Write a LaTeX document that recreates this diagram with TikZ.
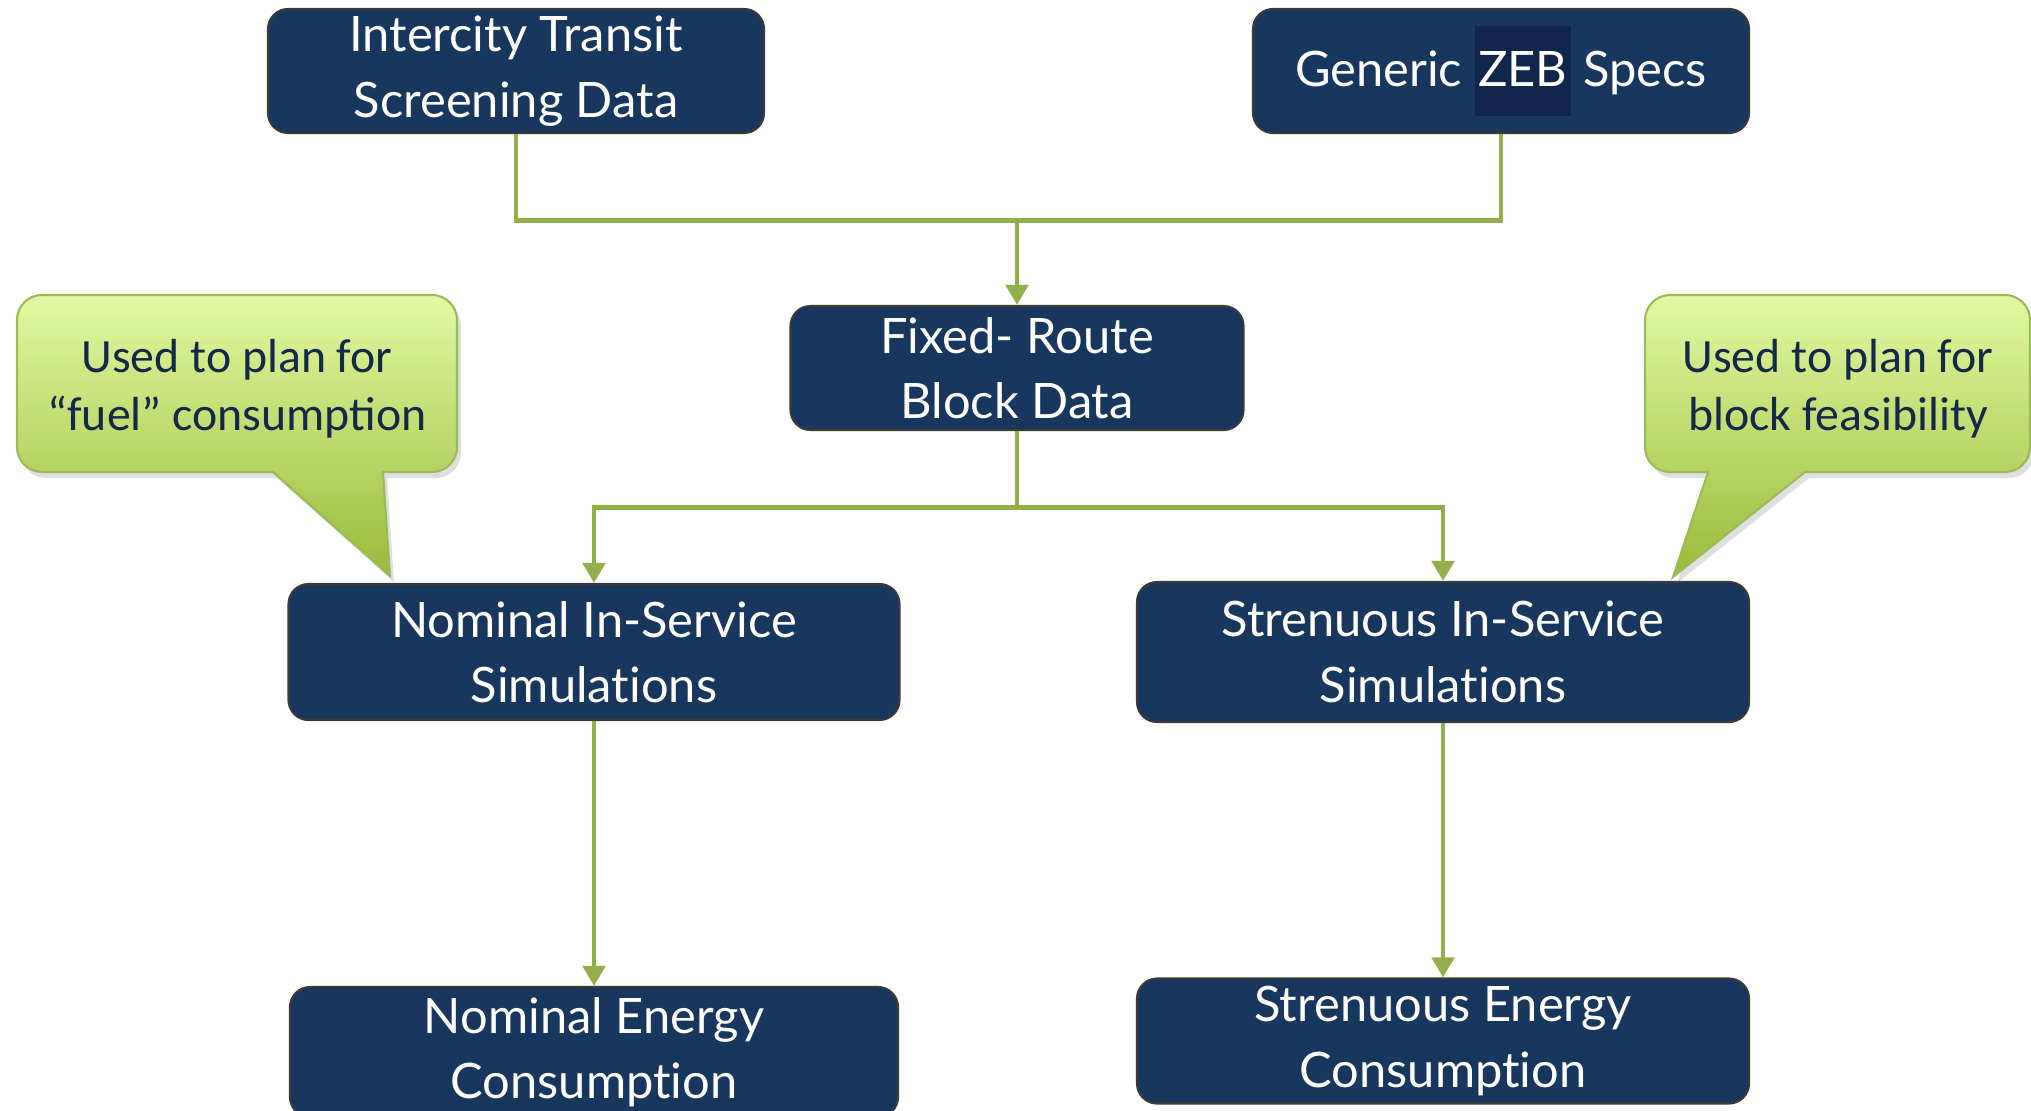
\documentclass[tikz,border=0pt]{standalone}
\usepackage{fontspec}
\setmainfont[Ligatures={NoCommon,NoContextual}]{Lato}
\newfontfamily\notefont{Carlito}
\usetikzlibrary{arrows.meta,shadows}

\definecolor{boxblue}{HTML}{17375E}
\definecolor{boxline}{HTML}{3A3A3A}
\definecolor{zebfill}{HTML}{10264A}
\definecolor{linkgreen}{HTML}{92AF4B}
\definecolor{bubbletop}{HTML}{E2F9A2}
\definecolor{bubblebot}{HTML}{9BBA3A}
\definecolor{bubbleline}{HTML}{9BBB59}
\definecolor{notetext}{HTML}{14294A}

\newcommand{\zebmark}[1]{{\setlength{\fboxsep}{0pt}\colorbox{zebfill}{\hspace{1pt}\rule[-0.3cm]{0pt}{0.9cm}#1\hspace{1pt}}}}

\begin{document}
\begin{tikzpicture}[x=0.1mm, y=0.1mm,
    block/.style ={rectangle, rounded corners=0.2cm, draw=boxline, line width=0.6pt,
        fill=boxblue, text=white, align=center, inner sep=0pt,
        font=\fontsize{13.9}{18.6}\selectfont},
    feed/.style ={draw=linkgreen, line width=1.4pt},
    flow/.style ={feed, -{Triangle[width=0.22cm,length=0.2cm]}},
    bubble/.style ={draw=bubbleline, line width=0.6pt, top color=bubbletop, bottom color=bubblebot,
        drop shadow={opacity=0.25, shadow xshift=0.04cm, shadow yshift=-0.06cm}},
    note/.style ={text=notetext, align=center, font=\notefont\fontsize{13.6}{16.4}\selectfont}]
   \useasboundingbox (0,0) rectangle (2031,-1110);

   % boxes
   \node[block, minimum width=4.96cm, minimum height=1.24cm] (intercity) at (516,-71) {Intercity Transit\\Screening Data};
   \node[block, minimum width=4.96cm, minimum height=1.24cm] (zeb) at (1501,-71) {Generic \zebmark{ZEB} Specs};
   \node[block, minimum width=4.53cm, minimum height=1.24cm] (fixed) at (1017,-368) {Fixed- Route\\Block Data};
   \node[block, minimum width=6.11cm, minimum height=1.36cm] (nomsim) at (594,-652) {Nominal In-Service\\Simulations};
   \node[block, minimum width=6.12cm, minimum height=1.40cm] (strsim) at (1443,-652) {Strenuous In-Service\\Simulations};
   \node[block, minimum width=6.08cm, minimum height=1.30cm] (nomenergy) at (594,-1052) {Nominal Energy\\Consumption};
   \node[block, minimum width=6.12cm, minimum height=1.25cm] (strenergy) at (1443,-1041) {Strenuous Energy\\Consumption};

   % connectors
   \draw[feed] (intercity.south) -- ++(0,-86) -| (zeb.south);
   \coordinate (join) at (1017,-219);
   \draw[flow] (join) -- (fixed.north);

   \draw[feed] (fixed.south) -- ++(0,-76) coordinate (split);
   \draw[flow] (split) -| (nomsim.north);
   \draw[flow] (split) -| (strsim.north);

   \draw[flow] (nomsim.south) -- (nomenergy.north);
   \draw[flow] (strsim.south) -- (strenergy.north);

   % callouts
   \path[bubble] (42,-295) -- (432,-295) arc[start angle=90, end angle=0, radius=0.25cm]
      -- (457,-447) arc[start angle=0, end angle=-90, radius=0.25cm]
      -- (383,-472) -- (390,-576) -- (273,-472)
      -- (42,-472) arc[start angle=270, end angle=180, radius=0.25cm]
      -- (17,-320) arc[start angle=180, end angle=90, radius=0.25cm] -- cycle;
   \node[note] (fuelnote) at (237,-389) {Used to plan for\\“fuel” consumption};

   \path[bubble] (1670,-295) -- (2005,-295) arc[start angle=90, end angle=0, radius=0.25cm]
      -- (2030,-447) arc[start angle=0, end angle=-90, radius=0.25cm]
      -- (1805,-472) -- (1673,-577) -- (1708,-472)
      -- (1670,-472) arc[start angle=270, end angle=180, radius=0.25cm]
      -- (1645,-320) arc[start angle=180, end angle=90, radius=0.25cm] -- cycle;
   \node[note] (blocknote) at (1838,-389) {Used to plan for\\block feasibility};
\end{tikzpicture}
\end{document}
